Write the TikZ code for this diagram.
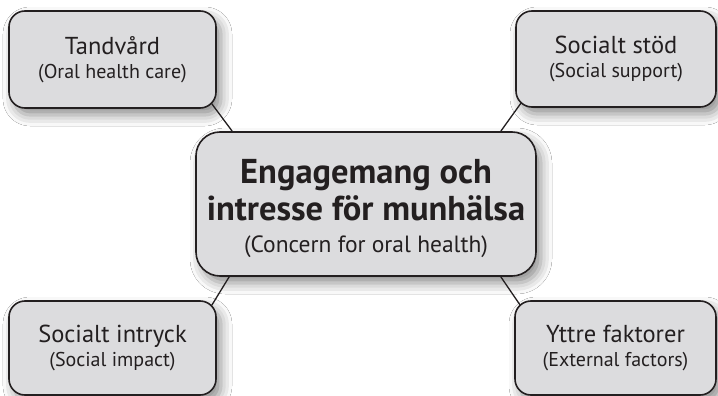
\documentclass[tikz,border=0pt]{standalone}
\usepackage{fontspec}
\setmainfont{PT Sans}
\usetikzlibrary{shadows.blur}
\definecolor{boxfill}{HTML}{DCDCDE}
\definecolor{boxline}{HTML}{231F20}
\newcommand\bigline[1]{{\fontsize{24.5}{28}\selectfont #1}}
\newcommand\boldline[1]{{\bfseries\fontsize{34.5}{37}\selectfont #1}}
\newcommand\tightlines{\lineskiplimit=-50pt\relax}
\begin{document}
\begin{tikzpicture}[x=1pt,y=-1pt,
  box/.style={draw=boxline, line width=1.6pt, fill=boxfill, rounded corners=16pt,
    blur shadow={shadow xshift=5pt, shadow yshift=-7pt, shadow blur radius=11pt, shadow opacity=45},
    align=center, inner sep=0pt, text=boxline,
    font=\fontsize{20}{24}\selectfont\tightlines},
  link/.style={draw=boxline, line width=1.3pt}]
\useasboundingbox (0,0) rectangle (718,396);
\fill[white] (0,0) rectangle (718,396);
\node[box, minimum width=207pt, minimum height=97pt] (t) at (112.5,59.5)
  {\bigline{Tandvård}\\(Oral health care)};
\node[box, minimum width=200pt, minimum height=96pt] (s) at (616,59)
  {\bigline{Socialt stöd}\\(Social support)};
\node[box, minimum width=340pt, minimum height=144pt, rounded corners=24pt] (c) at (366,204) {};
\node[align=center, text=boxline, inner sep=0pt,
  font=\fontsize{23.5}{32}\selectfont\tightlines] (ct) at (366,208.5)
  {\boldline{Engagemang och}\\[5pt]\boldline{intresse för munhälsa}\\(Concern for oral health)};
\node[box, minimum width=207pt, minimum height=94pt] (i) at (112.5,348)
  {\bigline{Socialt intryck}\\(Social impact)};
\node[box, minimum width=201pt, minimum height=94pt] (y) at (615.5,348)
  {\bigline{Yttre faktorer}\\(External factors)};
\draw[link] ([shift={(-5,-5)}]t.south east) -- ([xshift=37pt]c.north west);
\draw[link] ([shift={(6,-5)}]s.south west) -- ([xshift=-36pt]c.north east);
\draw[link] ([shift={(-5,5)}]i.north east) -- ([xshift=34pt]c.south west);
\draw[link] ([shift={(6,5)}]y.north west) -- ([xshift=-36pt]c.south east);
\end{tikzpicture}
\end{document}
